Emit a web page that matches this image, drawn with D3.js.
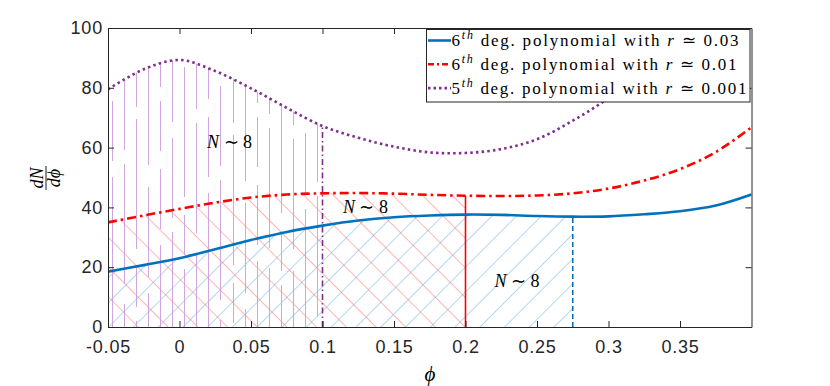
<!DOCTYPE html>
<html>
<head>
<meta charset="utf-8">
<script src="https://cdn.jsdelivr.net/npm/d3@7"></script>
<style>
  body { margin: 0; background: #fff; }
  svg { display: block; }
  .tick text { font-family: "Liberation Sans", Arial, sans-serif; font-size: 18px; fill: #262626; letter-spacing: 0.8px; }
  .tick line, .domain { stroke: #262626; }
  .tex { font-family: "Liberation Serif", "Times New Roman", serif; fill: #000; }
</style>
</head>
<body>
<div id="chart"></div>
<script>
// valores
const phi = [-0.05, -0.025, 0, 0.025, 0.05, 0.075, 0.1, 0.125, 0.15, 0.175, 0.2, 0.225, 0.25, 0.275, 0.3, 0.325, 0.35, 0.375, 0.4];
const blue = [18.5, 20.7, 23.0, 26.0, 29.1, 31.8, 33.9, 35.6, 36.7, 37.3, 37.6, 37.5, 37.1, 36.9, 37.0, 37.7, 38.7, 40.6, 44.3];
const red = [35.0, 37.3, 39.5, 41.6, 43.3, 44.3, 44.7, 44.8, 44.6, 44.2, 43.9, 43.8, 44.0, 44.7, 46.3, 49.0, 52.8, 58.5, 66.8];
const purple = [79.5, 86.2, 89.3, 85.6, 79.8, 73.3, 67.2, 63.3, 60.3, 58.4, 58.2, 59.5, 62.8, 69.0, 76.5, 85.0, 95.0, 106.0, 118.0];
const cutoffs = [0.275, 0.2, 0.1];   // blue, red, purple
const seriesOrder = ['6', '6', '5'];
const seriesR = ['0.03', '0.01', '0.001'];
const xTicks = [-0.05, 0, 0.05, 0.1, 0.15, 0.2, 0.25, 0.3, 0.35];
const xTickLabels = ['-0.05', '0', '0.05', '0.1', '0.15', '0.2', '0.25', '0.3', '0.35'];
const yTicks = [0, 20, 40, 60, 80, 100];
const nLabels = [[0.035, 60], [0.13, 38], [0.236, 13.5]];

let width = 830, height = 386;
const colors = ['#0072BD', '#FF0000', '#7E2F8E'];
const hatchColors = ['#5aa4e0', '#ff5a5a', '#c99dd8'];

const x = d3.scaleLinear().domain([-0.05, 0.4]).range([108, 751.5]);
const y = d3.scaleLinear().domain([0, 100]).range([327, 28]);

const svg = d3.select('#chart').append('svg').attr('width', width).attr('height', height);
const defs = svg.append('defs');

defs.append('clipPath').attr('id', 'plotClip').append('rect')
    .attr('x', x(-0.05)).attr('y', y(100)).attr('width', x(0.4) - x(-0.05)).attr('height', y(0) - y(100));

const series = [blue, red, purple].map((vals, k) => phi.map((p, i) => ({p: p, v: vals[i]})));
const valueAt = (k, p) => series[k].find(d => Math.abs(d.p - p) < 1e-9).v;

const curve = d3.curveCatmullRom;
const area = d3.area().x(d => x(d.p)).y0(y(0)).y1(d => y(d.v)).curve(curve);
const line = d3.line().x(d => x(d.p)).y(d => y(d.v)).curve(curve);

// clips de cada zona rayada
series.forEach((s, k) => {
    defs.append('clipPath').attr('id', 'under' + k).append('path').attr('d', area(s));
    defs.append('clipPath').attr('id', 'range' + k).append('rect')
        .attr('x', x(-0.05)).attr('y', y(100))
        .attr('width', x(cutoffs[k]) - x(-0.05)).attr('height', y(0) - y(100));
});

// patrones diagonales
function diagPattern(id, color, spacing, angle) {
    const pat = defs.append('pattern').attr('id', id)
        .attr('patternUnits', 'userSpaceOnUse')
        .attr('width', spacing).attr('height', spacing)
        .attr('patternTransform', `translate(${x(-0.05)},${y(0)}) rotate(${angle})`);
    pat.append('line').attr('x1', 0).attr('y1', -1).attr('x2', 0).attr('y2', spacing + 1)
        .attr('stroke', color).attr('stroke-width', 0.9);
}
diagPattern('hatchBlue', hatchColors[0], 17.5, 45);
diagPattern('hatchRed', hatchColors[1], 21, -45);

const plot = svg.append('g').attr('clip-path', 'url(#plotClip)');

// azul
plot.append('g').attr('clip-path', 'url(#range0)')
    .append('g').attr('clip-path', 'url(#under0)')
    .append('rect').attr('x', x(-0.05)).attr('y', y(100))
    .attr('width', x(0.4) - x(-0.05)).attr('height', y(0) - y(100))
    .attr('fill', 'url(#hatchBlue)');

// rojo
plot.append('g').attr('clip-path', 'url(#range1)')
    .append('g').attr('clip-path', 'url(#under1)')
    .append('rect').attr('x', x(-0.05)).attr('y', y(100))
    .attr('width', x(0.4) - x(-0.05)).attr('height', y(0) - y(100))
    .attr('fill', 'url(#hatchRed)');

// morado: lineas verticales cortadas en tramos
const dashSets = [[150, 16, 60, 18, 50, 14], [70, 20, 120, 14, 80, 16], [100, 14, 40, 18, 130, 12], [55, 16, 90, 22, 110, 14]];
const hatchX = d3.range(x(-0.05) + 3.5, x(cutoffs[2]), 12.1).map(v => Math.round(v) + 0.5);
let segs = [];
hatchX.forEach((hx, i) => {
    const pat = dashSets[i % dashSets.length];
    let pos = y(0) + (i * 47) % 120;
    let j = 0;
    while (pos > y(100)) {
        const len = pat[j % pat.length];
        if (j % 2 == 0) segs.push({x: hx, y1: pos, y2: pos - len});
        pos -= len;
        j++;
    }
});
plot.append('g').attr('clip-path', 'url(#range2)')
    .append('g').attr('clip-path', 'url(#under2)')
    .selectAll('line')
    .data(segs)
    .enter()
    .append('line')
    .attr('x1', d => d.x).attr('x2', d => d.x)
    .attr('y1', d => d.y1).attr('y2', d => d.y2)
    .attr('stroke', hatchColors[2]).attr('stroke-width', 0.9);

// lineas verticales de corte
const cutStyles = ['5,3', null, '6,3,1.5,3'];
cutoffs.forEach((c, k) => {
    plot.append('line')
        .attr('x1', x(c)).attr('x2', x(c))
        .attr('y1', y(0)).attr('y2', y(valueAt(k, c)))
        .attr('stroke', colors[k]).attr('stroke-width', 1.6)
        .attr('stroke-dasharray', cutStyles[k]);
});

// curvas
const curveDash = [null, '9,4,2.5,4', '2.5,3.2'];
[2, 1, 0].forEach(k => {
    plot.append('path')
        .attr('d', line(series[k]))
        .attr('fill', 'none')
        .attr('stroke', colors[k])
        .attr('stroke-width', 2.6)
        .attr('stroke-dasharray', curveDash[k]);
});

// etiquetas N ~ 8
nLabels.forEach(l => {
    const t = svg.append('text').attr('class', 'tex')
        .attr('x', x(l[0])).attr('y', y(l[1]))
        .attr('text-anchor', 'middle')
        .style('font-size', '18px');
    t.append('tspan').style('font-style', 'italic').text('N');
    t.append('tspan').text(' \u223C 8');
});

// ejes
svg.append('g').attr('transform', `translate(0,${y(0)})`)
    .call(d3.axisBottom(x).tickValues(xTicks).tickFormat((d, i) => xTickLabels[i]).tickSizeInner(-6).tickSizeOuter(0).tickPadding(13));
svg.append('g').attr('transform', `translate(0,${y(100)})`)
    .call(d3.axisTop(x).tickValues(xTicks).tickFormat('').tickSizeInner(-6).tickSizeOuter(0));
svg.append('g').attr('transform', `translate(${x(-0.05)},0)`)
    .call(d3.axisLeft(y).tickValues(yTicks).tickSizeInner(-6).tickSizeOuter(0).tickPadding(5));
svg.append('g').attr('transform', `translate(${x(0.4)},0)`)
    .call(d3.axisRight(y).tickValues(yTicks).tickFormat('').tickSizeInner(-6).tickSizeOuter(0));
svg.selectAll('.tick text').attr('fill', '#262626');
svg.selectAll('.domain, .tick line').attr('stroke', '#262626');

// titulo eje x
svg.append('text').attr('class', 'tex')
    .attr('x', 430).attr('y', 381)
    .attr('text-anchor', 'middle')
    .style('font-size', '21px').style('font-style', 'italic')
    .text('\u03D5');

// titulo eje y (fraccion)
const yl = svg.append('g').attr('transform', 'translate(46,178) rotate(-90)');
yl.append('text').attr('class', 'tex').attr('x', 0).attr('y', -3.5)
    .attr('text-anchor', 'middle').style('font-size', '18px').style('font-style', 'italic').text('dN');
yl.append('line').attr('x1', -12).attr('x2', 12).attr('y1', 0).attr('y2', 0)
    .attr('stroke', '#000').attr('stroke-width', 0.9);
yl.append('text').attr('class', 'tex').attr('x', 0).attr('y', 13.5)
    .attr('text-anchor', 'middle').style('font-size', '18px').style('font-style', 'italic').text('d\u03D5');

// leyenda
const legend = svg.append('g');
legend.append('rect')
    .attr('x', 426.5).attr('y', 29.5).attr('width', 323.5).attr('height', 72.5)
    .attr('fill', '#fff').attr('stroke', '#262626').attr('stroke-width', 1);
const legendWidths = [287, 285, 295];
series.forEach((s, k) => {
    let rowY = 40.5 + k * 23.8;
    legend.append('line')
        .attr('x1', 428).attr('x2', 451).attr('y1', rowY).attr('y2', rowY)
        .attr('stroke', colors[k]).attr('stroke-width', 2.6)
        .attr('stroke-dasharray', k == 1 ? '6,3,2,3' : (k == 2 ? '2.5,3' : null));
    const t = legend.append('text').attr('class', 'tex')
        .attr('x', 451.5).attr('y', rowY + 5.5)
        .style('font-size', '17px')
        .attr('textLength', legendWidths[k]).attr('lengthAdjust', 'spacing');
    t.append('tspan').text(seriesOrder[k]);
    t.append('tspan').attr('dy', -7).style('font-size', '12px').style('font-style', 'italic').text('th');
    t.append('tspan').attr('dy', 7).text(' deg.  polynomial with ');
    t.append('tspan').style('font-style', 'italic').text('r');
    t.append('tspan').text(' \u2243 ' + seriesR[k]);
});
</script>
</body>
</html>
